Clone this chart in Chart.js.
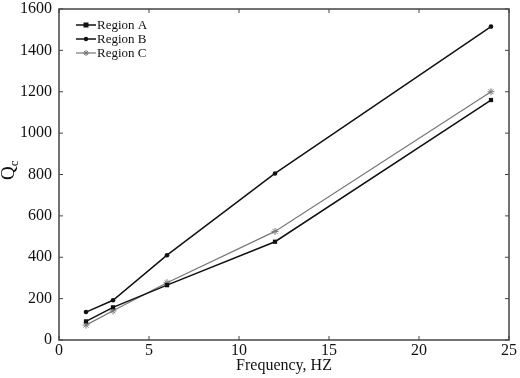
<!DOCTYPE html>
<html>
<head>
<meta charset="utf-8">
<script src="https://cdn.jsdelivr.net/npm/chart.js@4/dist/chart.umd.min.js"></script>
<style>
  html, body { margin: 0; padding: 0; background: #fff; }
  #wrap { width: 520px; height: 378px; }
</style>
</head>
<body>
<div id="wrap"><canvas id="qcChart" width="520" height="378"></canvas></div>
<script>
// frequencies (Hz) and Qc per region
var freqs = [1.5, 3, 6, 12, 24];
var regionA = [90, 158, 265, 475, 1160];
var regionB = [135, 192, 410, 805, 1515];
var regionC = [72, 141, 277, 525, 1200];
var xTicks = [0, 5, 10, 15, 20, 25];
var yTicks = [0, 200, 400, 600, 800, 1000, 1200, 1400, 1600];

var serif = "'Liberation Serif', 'Times New Roman', serif";

function pts(vals) {
    return freqs.map(function (f, i) { return { x: f, y: vals[i] }; });
}

// frame box + inward ticks on all four sides, the legend box and the Qc title
var frame = {
    id: 'frame',
    afterDraw: function (chart) {
        var c = chart.ctx, a = chart.chartArea;
        var xs = chart.scales.x, ys = chart.scales.y;
        c.save();
        c.strokeStyle = '#444';
        c.lineWidth = 1.5;
        c.strokeRect(a.left, a.top, a.right - a.left, a.bottom - a.top);
        c.lineWidth = 1;
        xTicks.forEach(function (t) {
            var px = xs.getPixelForValue(t);
            c.beginPath();
            c.moveTo(px, a.bottom); c.lineTo(px, a.bottom - 4);
            c.moveTo(px, a.top); c.lineTo(px, a.top + 4);
            c.stroke();
        });
        yTicks.forEach(function (t) {
            var py = ys.getPixelForValue(t);
            c.beginPath();
            c.moveTo(a.left, py); c.lineTo(a.left + 4, py);
            c.moveTo(a.right, py); c.lineTo(a.right - 4, py);
            c.stroke();
        });
        // legend
        c.font = '13px ' + serif;
        c.textBaseline = 'middle';
        chart.data.datasets.forEach(function (ds, i) {
            var y = 25 + i * 14;
            var x0 = 76, x1 = 96;
            c.strokeStyle = ds.borderColor;
            c.lineWidth = ds.borderWidth;
            c.beginPath(); c.moveTo(x0, y); c.lineTo(x1, y); c.stroke();
            c.fillStyle = ds.borderColor;
            var mx = (x0 + x1) / 2;
            if (ds.pointStyle === 'rect') {
                c.fillRect(mx - 2.5, y - 2.5, 5, 5);
            } else if (ds.pointStyle === 'circle') {
                c.beginPath(); c.arc(mx, y, 2.2, 0, Math.PI * 2); c.fill();
            } else {
                c.lineWidth = 1;
                c.beginPath();
                c.moveTo(mx - 3, y); c.lineTo(mx + 3, y);
                c.moveTo(mx, y - 3); c.lineTo(mx, y + 3);
                c.moveTo(mx - 2, y - 2); c.lineTo(mx + 2, y + 2);
                c.moveTo(mx - 2, y + 2); c.lineTo(mx + 2, y - 2);
                c.stroke();
            }
            c.fillStyle = '#111';
            c.fillText(ds.label, 97, y + 1);
        });
        // y title: Q with subscript c
        c.translate(14, 172);
        c.rotate(-Math.PI / 2);
        c.fillStyle = '#111';
        c.textBaseline = 'alphabetic';
        c.font = '19px ' + serif;
        var qw = c.measureText('Q').width;
        c.fillText('Q', -8, 0);
        c.font = '13px ' + serif;
        c.fillText('c', -8 + qw, 4);
        c.restore();
    }
};

var ctx = document.getElementById('qcChart').getContext('2d');
var chart = new Chart(ctx, {
    type: 'line',
    data: {
        datasets: [{
            label: 'Region A',
            data: pts(regionA),
            borderColor: '#111',
            backgroundColor: '#111',
            borderWidth: 1.5,
            pointStyle: 'rect',
            pointRadius: 3,
            pointBorderWidth: 0
        }, {
            label: 'Region B',
            data: pts(regionB),
            borderColor: '#111',
            backgroundColor: '#111',
            borderWidth: 1.5,
            pointStyle: 'circle',
            pointRadius: 2.3,
            pointBorderWidth: 0
        }, {
            label: 'Region C',
            data: pts(regionC),
            borderColor: '#777',
            backgroundColor: '#777',
            borderWidth: 1.2,
            pointStyle: 'star',
            pointRadius: 3.5,
            pointBorderWidth: 1
        }]
    },
    options: {
        responsive: false,
        animation: false,
        layout: { padding: { top: 9, right: 11, left: 0, bottom: 0 } },
        plugins: {
            legend: { display: false },
            tooltip: { enabled: false }
        },
        scales: {
            x: {
                type: 'linear',
                min: 0, max: 25,
                afterBuildTicks: function (s) { s.ticks = xTicks.map(function (v) { return { value: v }; }); },
                grid: { display: false, drawTicks: false },
                border: { display: false },
                ticks: { color: '#111', font: { family: serif, size: 16 }, padding: 1, maxRotation: 0 },
                title: { display: true, text: 'Frequency, HZ', color: '#111', font: { family: serif, size: 16 }, padding: { top: 0, bottom: 3 } },
                afterFit: function (s) { s.height = 38; s.paddingLeft = 0; s.paddingRight = 0; }
            },
            y: {
                min: 0, max: 1600,
                afterBuildTicks: function (s) { s.ticks = yTicks.map(function (v) { return { value: v }; }); },
                grid: { display: false, drawTicks: false },
                border: { display: false },
                ticks: {
                    color: '#111', font: { family: serif, size: 16 }, padding: 7,
                    callback: function (v) { return String(v); }
                },
                afterFit: function (s) { s.width = 59; s.paddingTop = 0; s.paddingBottom = 0; }
            }
        }
    },
    plugins: [frame]
});
</script>
</body>
</html>
